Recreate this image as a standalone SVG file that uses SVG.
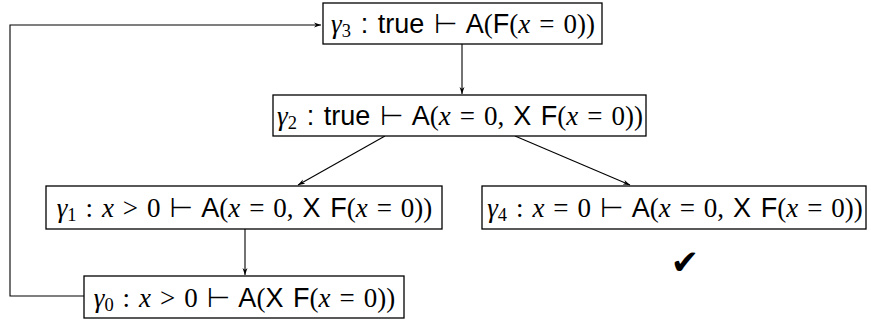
<svg xmlns="http://www.w3.org/2000/svg" width="871" height="320" viewBox="0 0 871 320">
<style>
.box{fill:#fff;stroke:#000;stroke-width:1.3}
.t{font-size:27px;fill:#000;text-anchor:middle;word-spacing:2.2px}
.s{font-family:"Liberation Sans","DejaVu Sans",sans-serif}
.r{font-family:"Liberation Serif","DejaVu Serif",serif}
.i{font-family:"Liberation Serif","DejaVu Serif",serif;font-style:italic}
.sub{font-family:"Liberation Serif",serif;font-size:18.5px}
.c{fill:none;stroke:#000;stroke-width:1.1}
</style>
<defs>
<marker id="ah" viewBox="0 0 10 10" refX="10" refY="5" markerWidth="7" markerHeight="7" orient="auto" markerUnits="userSpaceOnUse">
<path d="M0,1.5 L10,5 L0,8.5 L3,5 Z" fill="#000"/>
</marker>
</defs>
<g id="connectors">
<path class="c" d="M84,296 H10 V25 H321" marker-end="url(#ah)"/>
<path class="c" d="M462,44 V94" marker-end="url(#ah)"/>
<path class="c" d="M385,136 L298,185" marker-end="url(#ah)"/>
<path class="c" d="M515,136 L630,185" marker-end="url(#ah)"/>
<path class="c" d="M245,229 V275" marker-end="url(#ah)"/>
</g>
<g id="g3">
<rect class="box" x="323" y="3" width="279" height="41"/>
<text class="t" x="463" y="33"><tspan class="i">γ</tspan><tspan class="sub" dy="4">3</tspan><tspan class="s" dy="-4"> : true ⊢ A</tspan><tspan class="r">(</tspan><tspan class="s">F</tspan><tspan class="r">(</tspan><tspan class="i">x</tspan><tspan class="r"> = 0))</tspan></text>
</g>
<g id="g2">
<rect class="box" x="273" y="95" width="373" height="41"/>
<text class="t" x="460" y="125"><tspan class="i">γ</tspan><tspan class="sub" dy="4">2</tspan><tspan class="s" dy="-4"> : true ⊢ A</tspan><tspan class="r">(</tspan><tspan class="i">x</tspan><tspan class="r"> = 0, </tspan><tspan class="s">X F</tspan><tspan class="r">(</tspan><tspan class="i">x</tspan><tspan class="r"> = 0))</tspan></text>
</g>
<g id="g1">
<rect class="box" x="46" y="186" width="396" height="43"/>
<text class="t" x="244.5" y="217"><tspan class="i">γ</tspan><tspan class="sub" dy="4">1</tspan><tspan class="r" dy="-4"> : </tspan><tspan class="i">x</tspan><tspan class="r"> &gt; 0 </tspan><tspan class="s">⊢ A</tspan><tspan class="r">(</tspan><tspan class="i">x</tspan><tspan class="r"> = 0, </tspan><tspan class="s">X F</tspan><tspan class="r">(</tspan><tspan class="i">x</tspan><tspan class="r"> = 0))</tspan></text>
</g>
<g id="g4">
<rect class="box" x="482" y="186" width="384" height="43"/>
<text class="t" x="675" y="217"><tspan class="i">γ</tspan><tspan class="sub" dy="4">4</tspan><tspan class="r" dy="-4"> : </tspan><tspan class="i">x</tspan><tspan class="r"> = 0 </tspan><tspan class="s">⊢ A</tspan><tspan class="r">(</tspan><tspan class="i">x</tspan><tspan class="r"> = 0, </tspan><tspan class="s">X F</tspan><tspan class="r">(</tspan><tspan class="i">x</tspan><tspan class="r"> = 0))</tspan></text>
</g>
<g id="g0">
<rect class="box" x="84" y="276" width="320" height="42"/>
<text class="t" x="244.5" y="307"><tspan class="i">γ</tspan><tspan class="sub" dy="4">0</tspan><tspan class="r" dy="-4"> : </tspan><tspan class="i">x</tspan><tspan class="r"> &gt; 0 </tspan><tspan class="s">⊢ A</tspan><tspan class="r">(</tspan><tspan class="s">X F</tspan><tspan class="r">(</tspan><tspan class="i">x</tspan><tspan class="r"> = 0))</tspan></text>
</g>
<text x="685" y="274" style="font-family:'DejaVu Sans',sans-serif;font-size:34px;text-anchor:middle">✔</text>
</svg>
